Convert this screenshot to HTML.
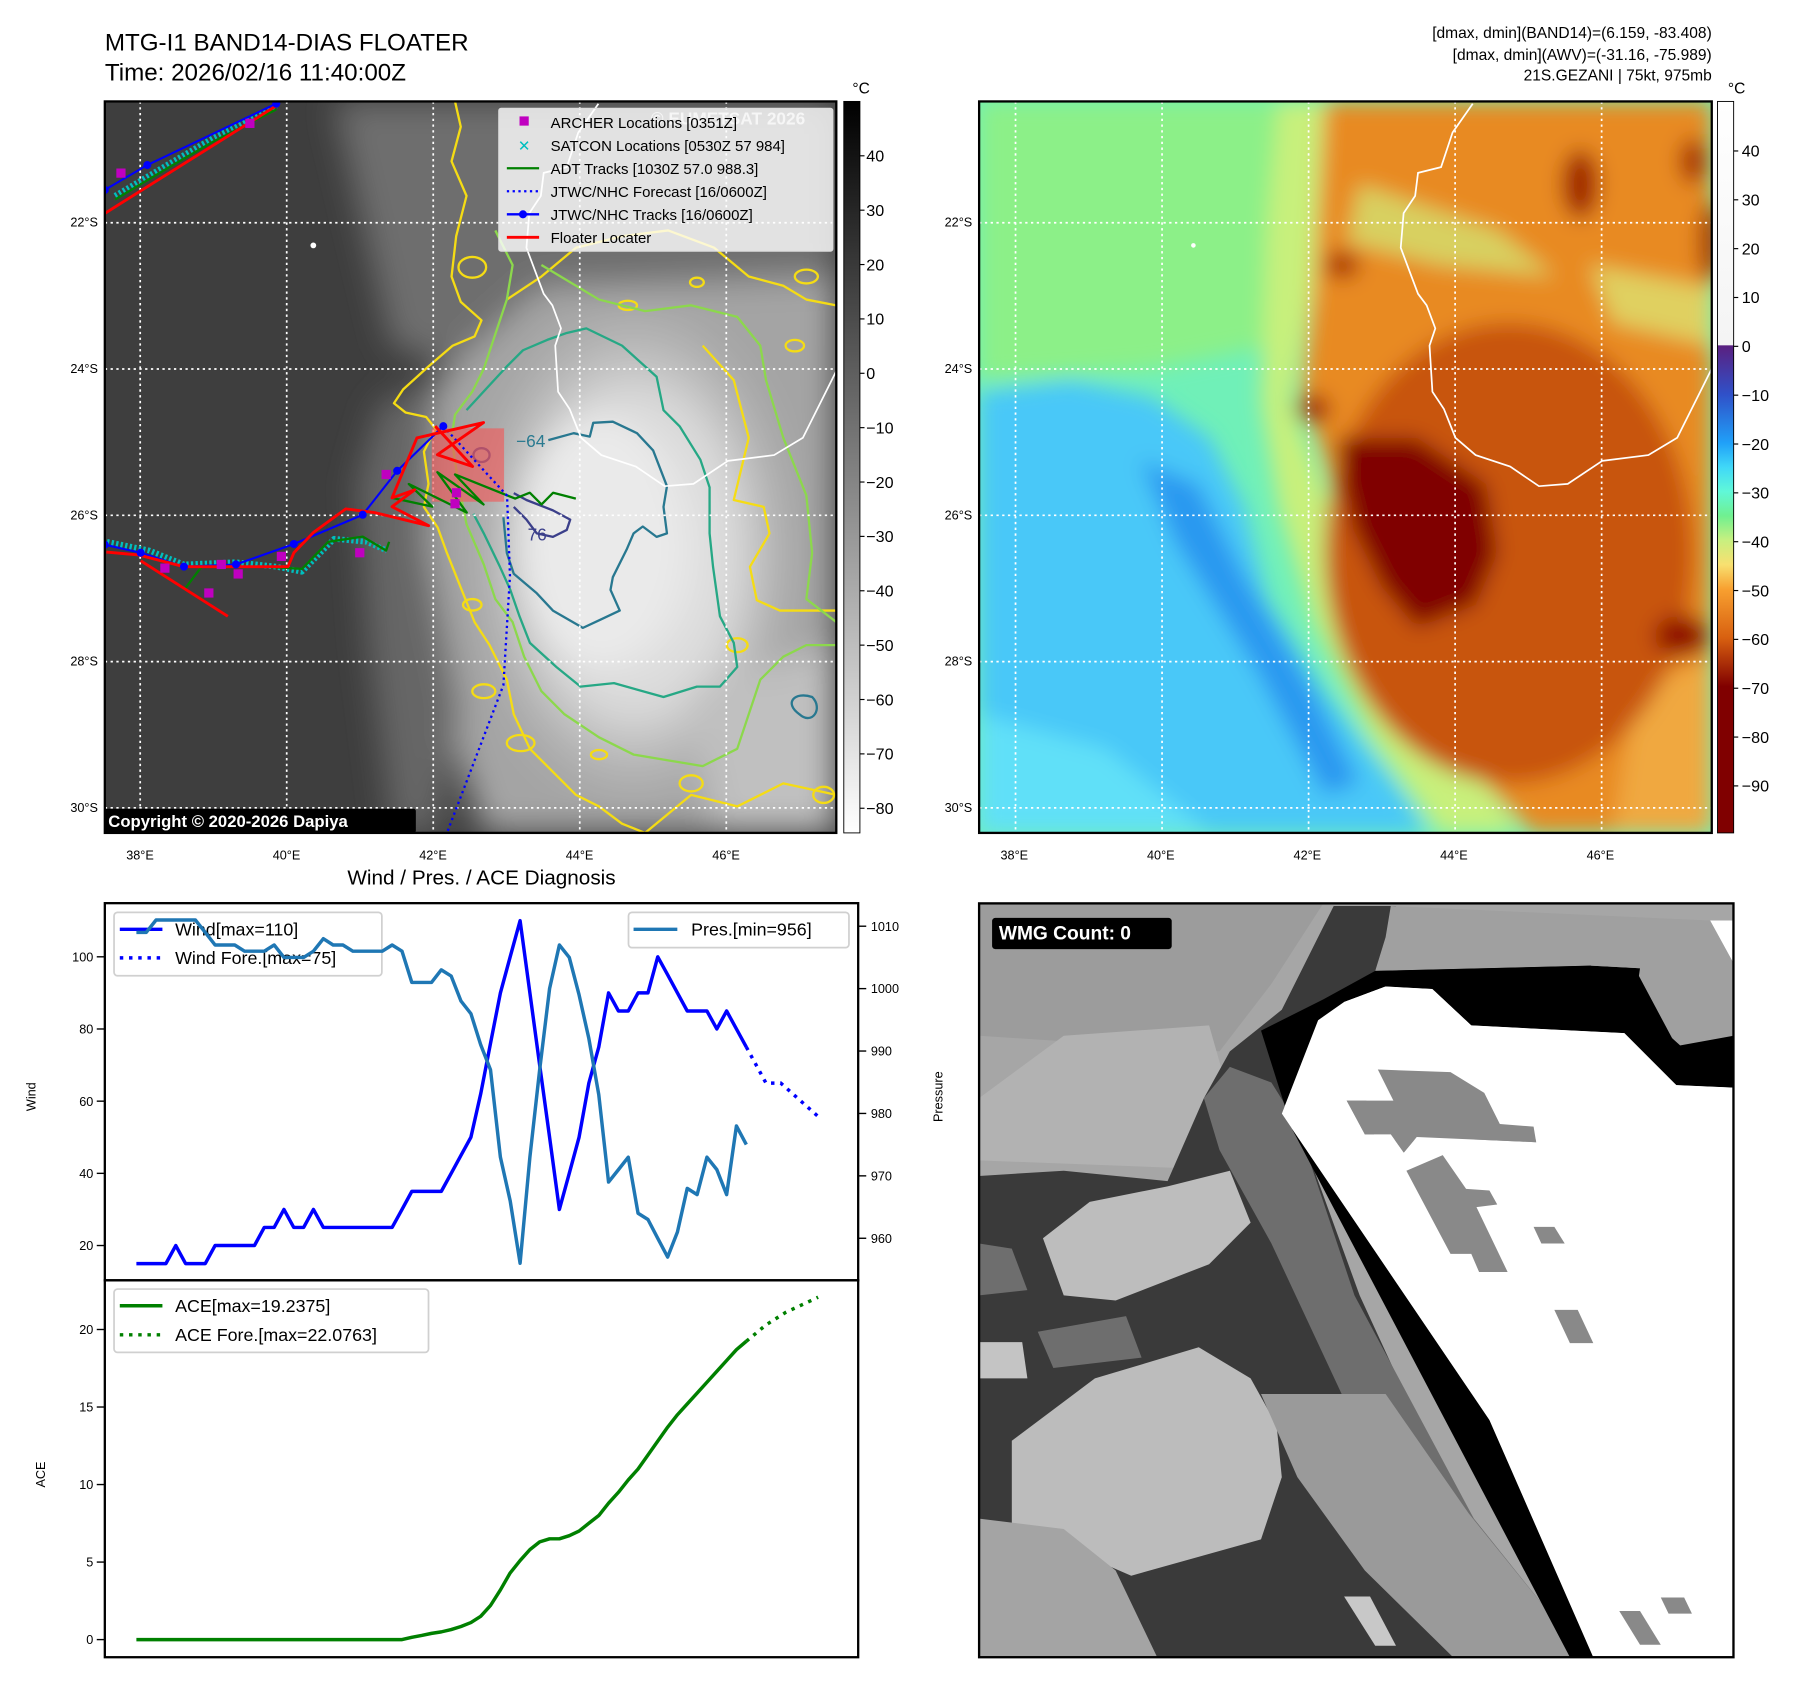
<!DOCTYPE html>
<html><head><meta charset="utf-8"><style>
html,body{margin:0;padding:0;background:#fff;}
svg{display:block;font-family:"Liberation Sans","DejaVu Sans",sans-serif;}
</style></head><body>
<svg id="root" width="1797" height="1690" viewBox="0 0 1560 1467" xmlns="http://www.w3.org/2000/svg">
<defs>
<clipPath id="clip1"><rect x="91" y="88" width="635" height="635"/></clipPath>
<clipPath id="clip2"><rect x="850" y="88" width="636" height="635"/></clipPath>
<clipPath id="clip3"><rect x="37" y="45" width="1453" height="1452"/></clipPath>
<filter id="blur1" x="-10%" y="-10%" width="120%" height="120%"><feGaussianBlur stdDeviation="14"/></filter>
<filter id="blur2" x="-10%" y="-10%" width="120%" height="120%"><feGaussianBlur stdDeviation="9"/></filter>
<linearGradient id="cb1" x1="0" y1="0" x2="0" y2="1"><stop offset="0" stop-color="#000"/><stop offset="1" stop-color="#fff"/></linearGradient>
<linearGradient id="cb2" x1="0" y1="0" x2="0" y2="1">
<stop offset="0" stop-color="#fff"/><stop offset="0.333" stop-color="#f4f4f4"/>
<stop offset="0.334" stop-color="#5a2080"/><stop offset="0.4" stop-color="#3050c8"/>
<stop offset="0.4667" stop-color="#20a0f8"/><stop offset="0.5" stop-color="#40d8f8"/>
<stop offset="0.5333" stop-color="#60f8d8"/><stop offset="0.5667" stop-color="#70f090"/>
<stop offset="0.6" stop-color="#c8f080"/><stop offset="0.6333" stop-color="#f8e070"/>
<stop offset="0.6667" stop-color="#f8a030"/><stop offset="0.7333" stop-color="#d86010"/>
<stop offset="0.8" stop-color="#800000"/><stop offset="1" stop-color="#800000"/></linearGradient>
<radialGradient id="cloud" cx="0.5" cy="0.5" r="0.5"><stop offset="0" stop-color="#f0f0f0"/><stop offset="0.6" stop-color="#d8d8d8"/><stop offset="1" stop-color="#b8b8b8" stop-opacity="0"/></radialGradient>
</defs>

<!-- Titles -->
<text x="91" y="44" font-size="21">MTG-I1 BAND14-DIAS FLOATER</text>
<text x="91" y="70" font-size="21">Time: 2026/02/16 11:40:00Z</text>
<g font-size="13.5" text-anchor="end">
<text x="1486" y="33">[dmax, dmin](BAND14)=(6.159, -83.408)</text>
<text x="1486" y="52">[dmax, dmin](AWV)=(-31.16, -75.989)</text>
<text x="1486" y="70">21S.GEZANI | 75kt, 975mb</text>
</g>

<!-- MAP 1 -->
<g clip-path="url(#clip1)">
<rect x="91" y="88" width="635" height="635" fill="#3e3e3e"/>
<g filter="url(#blur1)">
<polygon points="290,88 726,88 726,300 430,330 340,300" fill="#6e6e6e"/>
<polygon points="380,330 470,250 726,240 726,723 420,723 380,600 355,440" fill="#a4a4a4"/>
<polygon points="330,350 380,330 370,470 400,620 380,723 340,723 320,560 310,420" fill="#666"/>
<ellipse cx="550" cy="480" rx="150" ry="230" fill="url(#cloud)"/>
<ellipse cx="520" cy="470" rx="70" ry="110" fill="#eaeaea"/>
<polygon points="600,600 726,560 726,723 620,723" fill="#c0c0c0"/>
</g>
<g fill="none" stroke-width="2" stroke-linejoin="round">
<path d="M395,88 L400,110 L392,140 L405,170 L396,205 L392,240 L400,262 L418,278 L412,292 L393,300 L372,318 L350,338 L342,350 L352,358 L370,362 L378,372 L368,392 L372,420 L368,440 L380,458 L388,480 L400,510 L412,540 L425,560 L440,590 L446,620 L460,650 L482,672 L500,690 L520,700 L540,715 L560,723" stroke="#f5dc14"/>
<path d="M440,260 L470,240 L500,215 L540,205 L580,200 L620,215 L650,240 L680,248 L700,260 L726,265" stroke="#f5dc14"/>
<path d="M610,300 L637,330 L650,380 L637,434 L663,440 L668,463 L651,492 L657,521 L677,530 L726,530" stroke="#f5dc14"/>
<path d="M560,723 L600,690 L640,700 L680,680 L726,690" stroke="#f5dc14"/>
<ellipse cx="410" cy="525" rx="8" ry="5" stroke="#f5dc14"/><ellipse cx="420" cy="600" rx="10" ry="6" stroke="#f5dc14"/>
<ellipse cx="452" cy="645" rx="12" ry="7" stroke="#f5dc14"/><ellipse cx="600" cy="680" rx="10" ry="7" stroke="#f5dc14"/>
<ellipse cx="700" cy="240" rx="10" ry="6" stroke="#f5dc14"/><ellipse cx="410" cy="232" rx="12" ry="9" stroke="#f5dc14"/>
<ellipse cx="690" cy="300" rx="8" ry="5" stroke="#f5dc14"/><ellipse cx="715" cy="690" rx="9" ry="7" stroke="#f5dc14"/>
<ellipse cx="605" cy="245" rx="6" ry="4" stroke="#f5dc14"/><ellipse cx="520" cy="655" rx="7" ry="4" stroke="#f5dc14"/>
<ellipse cx="640" cy="560" rx="9" ry="6" stroke="#f5dc14"/><ellipse cx="545" cy="265" rx="8" ry="4" stroke="#f5dc14"/>
<path d="M430,200 L445,230 L440,260 L430,290 L420,320 L410,340 L395,360 L392,380 L398,420 L405,455 L420,490 L430,520 L445,540 L455,570 L470,600 L490,620 L520,640 L550,655 L580,660 L610,665 L640,650 L650,620 L660,590 L680,570 L700,560 L726,560" stroke="#8cd84c"/>
<path d="M470,230 L520,260 L560,270 L600,265 L640,275 L660,300 L665,330 L680,380 L700,430 L705,480 L700,520 L726,540" stroke="#8cd84c"/>
<path d="M405,356 L440,318 L454,304 L475,295 L492,289 L509,285 L540,300 L570,327 L576,356 L590,370 L608,399 L616,423 L616,463 L619,492 L625,535 L637,558 L640,579 L625,596 L605,596 L576,605 L533,593 L504,596 L483,579 L460,558 L451,535 L443,512 L434,492 L420,463 L411,446" stroke="#26a885"/>
<path d="M476,382 L498,376 L512,379 L515,367 L532,366 L553,376 L567,391 L579,422 L576,440 L579,463 L570,466 L558,457 L550,463 L544,477 L532,501 L530,512 L538,530 L521,538 L506,545 L480,530 L466,515 L446,498 L440,480 L437,449" stroke="#287890"/>
<path d="M446,428 L457,434 L480,443 L495,451 L492,460 L480,466 L466,463 L457,451 L446,440" stroke="#3b3f8a"/>
<ellipse cx="418" cy="395" rx="7" ry="6" stroke="#3b3f8a"/>
<path d="M694,620 C680,610 690,600 705,605 C715,615 705,630 694,620 Z" stroke="#287890"/>
</g>
<text x="448" y="388" font-size="15" fill="#2a7a90">−64</text>
<text x="458" y="469" font-size="15" fill="#3b3f8a">76</text>
<g stroke="#fff" stroke-width="1.5" stroke-dasharray="2,3">
<line x1="121.7" y1="88" x2="121.7" y2="723"/><line x1="248.9" y1="88" x2="248.9" y2="723"/><line x1="376.1" y1="88" x2="376.1" y2="723"/><line x1="503.3" y1="88" x2="503.3" y2="723"/><line x1="630.5" y1="88" x2="630.5" y2="723"/>
<line x1="91" y1="193.3" x2="726" y2="193.3"/><line x1="91" y1="320.3" x2="726" y2="320.3"/><line x1="91" y1="447.3" x2="726" y2="447.3"/><line x1="91" y1="574.3" x2="726" y2="574.3"/><line x1="91" y1="701.3" x2="726" y2="701.3"/>
</g>
<polyline points="519.5,90 502,115 492,145 472,150 469.5,170 459.5,185 457,215 464.5,235 472,255 479.5,265 487,285 482,300 484.5,340 494.5,355 504.5,380 522,395 552,405 577,422 602,420 632,400 672,395 697,380 702,370 717,340 727,320" fill="none" stroke="#fff" stroke-width="1.5"/>
<circle cx="272" cy="213" r="2.5" fill="#fff"/>
<rect x="374.8" y="371.8" width="62.8" height="63.7" fill="rgba(240,90,90,0.65)"/>
<g id="tracks"></g>
<text x="565" y="108" font-size="15" font-weight="bold" fill="#cfcfcf">© EUMETSAT 2026</text>
</g>
<rect x="91" y="88" width="635" height="635" fill="none" stroke="#000" stroke-width="2"/>
<g>
<rect x="433" y="94" width="290" height="124" fill="rgba(255,255,255,0.8)" stroke="#ddd" stroke-width="1" rx="2"/>
<rect x="451" y="101" width="8" height="8" fill="#c000c0"/>
<text x="455" y="131" font-size="13" fill="#00bfbf" text-anchor="middle" font-weight="bold">✕</text>
<line x1="440" y1="146" x2="468" y2="146" stroke="#008000" stroke-width="2"/>
<line x1="440" y1="166" x2="468" y2="166" stroke="#0000ff" stroke-width="2" stroke-dasharray="2,3"/>
<line x1="440" y1="186" x2="468" y2="186" stroke="#0000ff" stroke-width="2"/><circle cx="454" cy="186" r="3.5" fill="#0000ff"/>
<line x1="440" y1="206" x2="468" y2="206" stroke="#ff0000" stroke-width="2.5"/>
<g font-size="13">
<text x="478" y="111">ARCHER Locations [0351Z]</text>
<text x="478" y="131">SATCON Locations [0530Z 57 984]</text>
<text x="478" y="151">ADT Tracks [1030Z 57.0 988.3]</text>
<text x="478" y="171">JTWC/NHC Forecast [16/0600Z]</text>
<text x="478" y="191">JTWC/NHC Tracks [16/0600Z]</text>
<text x="478" y="211">Floater Locater</text>
</g></g>
<rect x="91" y="702" width="270" height="21" fill="#000" rx="2"/>
<text x="94" y="718" font-size="14.5" font-weight="bold" fill="#fff">Copyright © 2020-2026 Dapiya</text>
<rect x="732.5" y="88" width="14" height="635" fill="url(#cb1)" stroke="#000" stroke-width="0.8"/>
<text x="740" y="81" font-size="13.5">°C</text>
<g id="cb1ticks" font-size="14"></g>

<!-- MAP 2 -->
<g clip-path="url(#clip2)">
<rect x="850" y="88" width="636" height="635" fill="#70f0b8"/>
<g filter="url(#blur2)">
<polygon points="850,88 1140,88 1120,200 1100,300 1000,320 850,330" fill="#8cf088"/>
<polygon points="850,340 930,330 1000,345 1050,380 1080,440 1100,520 1150,600 1210,680 1240,723 850,723" fill="#48c8f8"/>
<polygon points="990,400 1040,420 1080,500 1140,600 1180,680 1150,690 1090,580 1020,470" fill="#2a98f0"/>
<polygon points="850,620 960,650 1050,723 850,723" fill="#60e0f8"/>
<polygon points="1110,88 1180,88 1140,250 1120,350 1140,400 1170,480 1200,560 1260,640 1320,723 1250,723 1190,640 1140,540 1110,440 1095,350 1100,200" fill="#c8f07c"/>
<polygon points="1150,88 1486,88 1486,723 1330,723 1260,650 1210,580 1175,500 1150,400 1130,340 1140,250" fill="#e88a24"/>
<polygon points="1180,160 1300,200 1350,240 1250,230 1170,210" fill="#d8d060"/>
<polygon points="1380,230 1486,250 1486,300 1400,280" fill="#e0d060"/>
<polygon points="1420,600 1486,570 1486,723 1400,723" fill="#f0a840"/>
<ellipse cx="1310" cy="480" rx="160" ry="200" fill="#c85410"/>
<polygon points="1161,380 1230,380 1290,420 1300,480 1281,525 1230,545 1200,510 1175,460 1165,420" fill="#800000"/>
<ellipse cx="1460" cy="552" rx="24" ry="18" fill="#901000"/>
<ellipse cx="1372" cy="160" rx="16" ry="30" fill="#a02800"/>
<ellipse cx="1470" cy="140" rx="12" ry="20" fill="#a83000"/>
<ellipse cx="1485" cy="210" rx="10" ry="35" fill="#a03000"/>
<ellipse cx="1165" cy="230" rx="15" ry="12" fill="#a83000"/>
<ellipse cx="1140" cy="355" rx="15" ry="12" fill="#a02000"/>
</g>
<g stroke="#fff" stroke-width="1.5" stroke-dasharray="2,3">
<line x1="881.6" y1="88" x2="881.6" y2="723"/><line x1="1008.8" y1="88" x2="1008.8" y2="723"/><line x1="1136" y1="88" x2="1136" y2="723"/><line x1="1263.2" y1="88" x2="1263.2" y2="723"/><line x1="1390.4" y1="88" x2="1390.4" y2="723"/>
<line x1="850" y1="193.3" x2="1486" y2="193.3"/><line x1="850" y1="320.3" x2="1486" y2="320.3"/><line x1="850" y1="447.3" x2="1486" y2="447.3"/><line x1="850" y1="574.3" x2="1486" y2="574.3"/><line x1="850" y1="701.3" x2="1486" y2="701.3"/>
</g>
<polyline points="1278.5,90 1261,115 1251,145 1231,150 1228.5,170 1218.5,185 1216,215 1223.5,235 1231,255 1238.5,265 1246,285 1241,300 1243.5,340 1253.5,355 1263.5,380 1281,395 1311,405 1336,422 1361,420 1391,400 1431,395 1456,380 1461,370 1476,340 1486,320" fill="none" stroke="#fff" stroke-width="1.5"/>
<circle cx="1036" cy="213" r="2" fill="#fff"/>
</g>
<rect x="850" y="88" width="636" height="635" fill="none" stroke="#000" stroke-width="2"/>
<rect x="1491" y="88" width="14" height="635" fill="url(#cb2)" stroke="#000" stroke-width="0.8"/>
<text x="1500" y="81" font-size="13.5">°C</text>
<g id="cb2ticks" font-size="14"></g>
<g id="mapticks" font-size="11"></g>

<!-- Chart -->
<text x="418" y="768" font-size="18" text-anchor="middle">Wind / Pres. / ACE Diagnosis</text>
<rect x="91" y="784" width="654" height="327" fill="#fff"/>
<g id="chart"></g>
<rect x="91" y="784" width="654" height="327.4" fill="none" stroke="#000" stroke-width="2"/>
<rect x="91" y="1111.4" width="654" height="327.2" fill="none" stroke="#000" stroke-width="2"/>
<text transform="translate(31,952) rotate(-90)" font-size="11" text-anchor="middle">Wind</text>
<text transform="translate(818,952) rotate(-90)" font-size="11" text-anchor="middle">Pressure</text>
<text transform="translate(39,1280) rotate(-90)" font-size="11" text-anchor="middle">ACE</text>

<!-- WMG panel -->
<g transform="translate(833.3,763.9) scale(0.4507)">
<g clip-path="url(#clip3)">
<rect x="37" y="45" width="1453" height="1452" fill="#a6a6a6"/>
<polygon points="37,45 700,45 600,200 500,330 37,300" fill="#9c9c9c"/>
<polygon points="200,300 480,280 520,420 560,560 37,540 37,420" fill="#b2b2b2"/>
<polygon points="1445,78 1490,78 1490,160" fill="#fff"/>
<polygon points="37,570 200,560 400,580 470,420 520,330 620,250 720,50 840,50 800,180 650,470 770,800 1000,1300 1175,1497 37,1497" fill="#3a3a3a"/>
<polygon points="470,420 520,360 600,390 650,470 760,800 990,1230 1150,1430 1175,1497 950,1497 860,1300 740,1000 600,700 500,520" fill="#6e6e6e"/>
<polygon points="160,690 250,620 400,590 520,560 560,660 480,740 300,810 200,800" fill="#bdbdbd"/>
<polygon points="100,1080 260,960 460,900 560,960 610,1050 620,1150 580,1270 330,1340 100,1240" fill="#bcbcbc"/>
<polygon points="37,1230 200,1250 300,1330 380,1497 37,1497" fill="#a4a4a4"/>
<polygon points="150,870 320,840 350,920 180,940" fill="#6e6e6e"/>
<polygon points="37,890 120,890 130,960 37,960" fill="#c4c4c4"/>
<polygon points="37,700 100,710 130,790 37,800" fill="#6e6e6e"/>
<polygon points="580,990 820,990 980,1220 1150,1430 1175,1497 950,1497 780,1330 650,1150" fill="#9a9a9a"/>
<polygon points="740,1380 790,1380 840,1475 800,1475" fill="#c8c8c8"/>
<polygon points="580,290 700,230 800,175 1215,165 1310,170 1490,310 1490,400 1380,395 1280,295 985,280 910,210 820,205 740,235 690,270 620,450 1020,1040 1220,1497 1175,1497 640,480" fill="#000"/>
<polygon points="740,235 820,205 910,210 985,280 1280,295 1380,395 1490,400 1490,1497 1220,1497 1020,1040 620,450 690,270" fill="#fff"/>
<polygon points="805,365 945,370 1010,410 1040,470 1105,475 1110,505 880,495 855,525 830,490 780,490 745,425 835,425" fill="#898989"/>
<polygon points="860,560 930,530 975,595 1020,598 1035,625 995,630 1055,755 1000,755 985,720 945,720" fill="#898989"/>
<polygon points="1105,668 1145,668 1165,700 1120,700" fill="#898989"/>
<polygon points="1145,828 1190,828 1220,892 1175,892" fill="#898989"/>
<polygon points="1270,1408 1310,1408 1350,1473 1310,1473" fill="#898989"/>
<polygon points="1350,1382 1395,1382 1410,1413 1365,1413" fill="#898989"/>
<polygon points="830,50 1445,78 1490,160 1490,300 1400,330 1300,240 1310,170 1215,165 800,175 820,110" fill="#a0a0a0"/>
<polygon points="580,290 700,230 800,175 1215,165 1310,170 1490,310 1490,400 1380,395 1280,295 985,280 910,210 820,205 740,235 690,270 650,360" fill="#000" opacity="0"/>
<polygon points="800,175 1215,165 1240,200 1300,170 1380,320 1490,300 1490,400 1380,395 1290,325 1280,295 985,280 910,210 820,205" fill="#000"/>
<polygon points="820,205 910,210 985,280 1280,295 1380,395 1490,400 1490,500 800,500 740,235" fill="#fff"/>
<polygon points="805,365 945,370 1010,410 1040,470 1105,475 1110,505 880,495 855,525 830,490 780,490 745,425 835,425" fill="#898989"/>
</g>
<rect x="37" y="45" width="1453" height="1452" fill="none" stroke="#000" stroke-width="4.5"/>
<rect x="62" y="73" width="346" height="60" rx="6" fill="#000"/>
<text x="75" y="115" font-size="37" font-weight="bold" fill="#fff">WMG Count: 0</text>
</g>

<script>
// ---- Chart data ----
const windVals=[15,15,15,15,20,15,15,15,20,20,20,20,20,25,25,30,25,25,30,25,25,25,25,25,25,25,25,30,35,35,35,35,40,45,50,62,76,90,100,110,90,70,50,30,40,50,65,75,90,85,85,90,90,100,95,90,85,85,85,80,85,80,75];
const presVals=[1009,1009,1011,1011,1011,1011,1011,1009,1007,1007,1007,1006,1006,1006,1007,1005,1005,1005,1006,1008,1007,1007,1006,1006,1006,1006,1007,1006,1001,1001,1001,1003,1002,998,996,991,987,973,966,956,973,987,1000,1007,1005,999,992,983,969,971,973,964,963,960,957,961,968,967,973,971,967,978,975];
const aceVals=[0,0,0,0,0,0,0,0,0,0,0,0,0,0,0,0,0,0,0,0,0,0,0,0,0,0,0,0,0.15,0.27,0.4,0.5,0.65,0.85,1.1,1.5,2.2,3.2,4.3,5.1,5.8,6.3,6.5,6.5,6.7,7.0,7.5,8.0,8.8,9.5,10.3,11.0,11.9,12.8,13.7,14.5,15.2,15.9,16.6,17.3,18.0,18.7,19.24];
const foreIdx=[62,64,65.5,69.6];
const foreWind=[75,65,65,55];
const aceForeIdx=[62,64,66,69.3];
const aceFore=[19.24,20.3,21.1,22.08];
const windTicks=[20,40,60,80,100];
const presTicks=[960,970,980,990,1000,1010];
const aceTicks=[0,5,10,15,20];
// ---- Map data (lon/lat) ----
const blueTrackLon=[37.52,38.01,38.60,39.31,40.10,41.04,41.51,42.14];
const blueTrackLat=[-26.41,-26.52,-26.71,-26.68,-26.40,-26.00,-25.40,-24.79];
const blueTopLon=[37.52,38.10,39.86];
const blueTopLat=[-21.56,-21.22,-20.38];
const redTrackLon=[37.54,37.98,38.60,40.02,40.10,40.37,40.81,41.20,41.94,41.44,41.75,41.44,41.78,42.69,42.06,42.54,42.03];
const redTrackLat=[-26.51,-26.55,-26.71,-26.71,-26.52,-26.24,-25.92,-25.97,-26.15,-25.89,-25.66,-25.77,-24.95,-24.74,-25.18,-25.34,-24.79];
const redTailLon=[38.01,39.20];
const redTailLat=[-26.63,-27.39];
const redTopLon=[37.52,39.86];
const redTopLat=[-21.88,-20.41];
const adtLon=[38.60,38.84,39.71,40.21,40.57,41.04,41.36,41.40];
const adtLat=[-27.03,-26.71,-26.71,-26.74,-26.37,-26.30,-26.49,-26.37];
const adtZigLon=[41.44,41.99,41.67,42.46,42.06,42.69,42.30,43.12,43.32,43.48,43.64,43.95];
const adtZigLat=[-25.77,-25.89,-25.58,-25.97,-25.42,-25.86,-25.45,-25.78,-25.70,-25.86,-25.70,-25.78];
const foreLon=[42.14,43.01,43.05,42.96,42.19];
const foreLat=[-24.79,-25.74,-26.84,-28.33,-30.35];
const satconLon=[37.55,38.13,38.60,39.31,39.86,40.21,40.65,41.09,41.37];
const satconLat=[-26.37,-26.49,-26.68,-26.65,-26.71,-26.78,-26.33,-26.37,-26.49];
const satconTopLon=[37.66,38.45,39.0,39.86];
const satconTopLat=[-21.64,-21.17,-20.85,-20.41];
const archerLon=[37.74,38.34,38.94,39.11,39.34,39.93,41.0,41.36,42.30,39.50,42.32];
const archerLat=[-21.33,-26.73,-27.07,-26.68,-26.81,-26.57,-26.52,-25.45,-25.85,-20.65,-25.70];
const lonTicks=[38,40,42,44,46];
const latTicks=[-22,-24,-26,-28,-30];
const cb1Ticks=[40,30,20,10,0,-10,-20,-30,-40,-50,-60,-70,-80];
const cb2Ticks=[40,30,20,10,0,-10,-20,-30,-40,-50,-60,-70,-80,-90];

const NS='http://www.w3.org/2000/svg';
function mk(tag,attrs,parent){const e=document.createElementNS(NS,tag);for(const k in attrs)e.setAttribute(k,attrs[k]);parent.appendChild(e);return e;}
const fmt=v=>(v<0?'\u2212'+Math.abs(v):''+v);

// axis functions
const xIdx=i=>118.4+i*8.54;
const yWind=v=>1081.2-(v-20)*3.133;
const yPres=p=>1074.9-(p-960)*5.418;
const yAce=a=>1423.3-a*13.46;
const lonX=lon=>91+(lon-37.52)*63.6;
const latY=lat=>88+(-20.35-lat)*63.5;

const chart=document.getElementById('chart');
function pts(xs,ys,fx,fy){return xs.map((v,i)=>fx(v).toFixed(1)+','+fy(ys[i]).toFixed(1)).join(' ');}
const idxArr=windVals.map((v,i)=>i);

// left wind ticks
windTicks.forEach(v=>{
 const t=mk('line',{x1:84,x2:91,y1:yWind(v),y2:yWind(v),stroke:'#000','stroke-width':1.2},chart);
 
 
 const l=mk('text',{x:81,y:yWind(v)+4,'font-size':11,'text-anchor':'end'},chart);l.textContent=v;
 
 
});
presTicks.forEach(v=>{
 const t=mk('line',{x1:745,x2:752,y1:yPres(v),y2:yPres(v),stroke:'#000','stroke-width':1.2},chart);
 
 
 const l=mk('text',{x:756,y:yPres(v)+4,'font-size':11},chart);l.textContent=v;
 
 
});
aceTicks.forEach(v=>{
 const t=mk('line',{x1:84,x2:91,y1:yAce(v),y2:yAce(v),stroke:'#000','stroke-width':1.2},chart);
 
 
 const l=mk('text',{x:81,y:yAce(v)+4,'font-size':11,'text-anchor':'end'},chart);l.textContent=v;
 
 
});
// wind line
const wl=mk('polyline',{points:pts(idxArr,windVals,xIdx,yWind),fill:'none',stroke:'#0000ff','stroke-width':3,'stroke-linejoin':'round'},chart);


const wf=mk('polyline',{points:pts(foreIdx,foreWind,xIdx,yWind),fill:'none',stroke:'#0000ff','stroke-width':3,'stroke-dasharray':'3,5'},chart);


// wind legend
const wlg=mk('g',{},chart);


mk('rect',{x:99,y:792,width:232.5,height:55,rx:3,fill:'rgba(255,255,255,0.8)',stroke:'#d0d0d0','stroke-width':1.5},wlg);
mk('line',{x1:104,x2:141,y1:806.7,y2:806.7,stroke:'#0000ff','stroke-width':3},wlg);
mk('line',{x1:104,x2:141,y1:831.5,y2:831.5,stroke:'#0000ff','stroke-width':3,'stroke-dasharray':'3,5'},wlg);
const t1=mk('text',{x:152,y:812,'font-size':15.5},wlg);t1.textContent='Wind[max=110]';
const t2=mk('text',{x:152,y:837,'font-size':15.5},wlg);t2.textContent='Wind Fore.[max=75]';
// pressure line
const pl=mk('polyline',{points:pts(idxArr,presVals,xIdx,yPres),fill:'none',stroke:'#1f77b4','stroke-width':3,'stroke-linejoin':'round'},chart);


const plg=mk('g',{},chart);


mk('rect',{x:545.6,y:792,width:191.4,height:30.6,rx:3,fill:'rgba(255,255,255,0.8)',stroke:'#d0d0d0','stroke-width':1.5},plg);
mk('line',{x1:550,x2:588,y1:806.7,y2:806.7,stroke:'#1f77b4','stroke-width':3},plg);
const t3=mk('text',{x:600,y:812,'font-size':15.5},plg);t3.textContent='Pres.[min=956]';
// ACE
const al=mk('polyline',{points:pts(idxArr,aceVals,xIdx,yAce),fill:'none',stroke:'#008000','stroke-width':3,'stroke-linejoin':'round'},chart);


const af=mk('polyline',{points:pts(aceForeIdx,aceFore,xIdx,yAce),fill:'none',stroke:'#008000','stroke-width':3,'stroke-dasharray':'3,5'},chart);


const alg=mk('g',{},chart);


mk('rect',{x:99,y:1119,width:273,height:55,rx:3,fill:'rgba(255,255,255,0.8)',stroke:'#d0d0d0','stroke-width':1.5},alg);
mk('line',{x1:104,x2:141,y1:1133.5,y2:1133.5,stroke:'#008000','stroke-width':3},alg);
mk('line',{x1:104,x2:141,y1:1158.7,y2:1158.7,stroke:'#008000','stroke-width':3,'stroke-dasharray':'3,5'},alg);
const t4=mk('text',{x:152,y:1139,'font-size':15.5},alg);t4.textContent='ACE[max=19.2375]';
const t5=mk('text',{x:152,y:1164,'font-size':15.5},alg);t5.textContent='ACE Fore.[max=22.0763]';

// ---- Map tracks ----
const tr=document.getElementById('tracks');
function line(lons,lats,attrs,name){const a=Object.assign({points:pts(lons,lats,lonX,latY),fill:'none','stroke-linejoin':'round'},attrs);const e=mk('polyline',a,tr);return e;}
line(satconLon,satconLat,{stroke:'#00bfbf','stroke-width':5,'stroke-dasharray':'2,2'},'satcon-track');
line(satconTopLon,satconTopLat,{stroke:'#00bfbf','stroke-width':5,'stroke-dasharray':'2,2'},'satcon-track-north');
line(adtLon,adtLat,{stroke:'#008000','stroke-width':2},'adt-track');
line(adtZigLon,adtZigLat,{stroke:'#008000','stroke-width':2},'adt-track-recent');
line(satconTopLon,satconTopLat.map(v=>v-0.05),{stroke:'#008000','stroke-width':2},'adt-track-north');
line(blueTrackLon,blueTrackLat,{stroke:'#0000ff','stroke-width':1.8},'jtwc-track');
line(blueTopLon,blueTopLat,{stroke:'#0000ff','stroke-width':1.8},'jtwc-track-north');
line(foreLon,foreLat,{stroke:'#0000ff','stroke-width':2,'stroke-dasharray':'2,3'},'jtwc-forecast');
line(redTrackLon,redTrackLat,{stroke:'#ff0000','stroke-width':2.5},'floater-locater-track');
line(redTailLon,redTailLat,{stroke:'#ff0000','stroke-width':2.5},'floater-tail');
line(redTopLon,redTopLat,{stroke:'#ff0000','stroke-width':2.5},'floater-track-north');
blueTrackLon.forEach((lon,i)=>{const c=mk('circle',{cx:lonX(lon),cy:latY(blueTrackLat[i]),r:3.5,fill:'#0000ff'},tr);
 
 });
blueTopLon.forEach((lon,i)=>{const c=mk('circle',{cx:lonX(lon),cy:latY(blueTopLat[i]),r:3.5,fill:'#0000ff'},tr);
 
 });
archerLon.forEach((lon,i)=>{const r=mk('rect',{x:lonX(lon)-4,y:latY(archerLat[i])-4,width:8,height:8,fill:'#c000c0'},tr);
 
 });

// ---- Map ticks ----
const mt=document.getElementById('mapticks');
[0,759].forEach(off=>{
 lonTicks.forEach(lon=>{const l=mk('text',{x:lonX(lon)+off,y:746,'text-anchor':'middle'},mt);l.textContent=lon+'°E';
  
  });
 latTicks.forEach(lat=>{const l=mk('text',{x:85+off,y:latY(lat)+4,'text-anchor':'end'},mt);l.textContent=Math.abs(lat)+'°S';
  
  });
});
const c1=document.getElementById('cb1ticks');
cb1Ticks.forEach(v=>{const y=135.2+(40-v)*4.72;mk('line',{x1:746.5,x2:750.5,y1:y,y2:y,stroke:'#000'},c1);
 const l=mk('text',{x:752,y:y+5},c1);l.textContent=fmt(v);
 
 });
const c2=document.getElementById('cb2ticks');
cb2Ticks.forEach(v=>{const y=131+(40-v)*4.24;mk('line',{x1:1505,x2:1509,y1:y,y2:y,stroke:'#000'},c2);
 const l=mk('text',{x:1512,y:y+5},c2);l.textContent=fmt(v);
 
 });
</script>
</svg>
</body></html>
